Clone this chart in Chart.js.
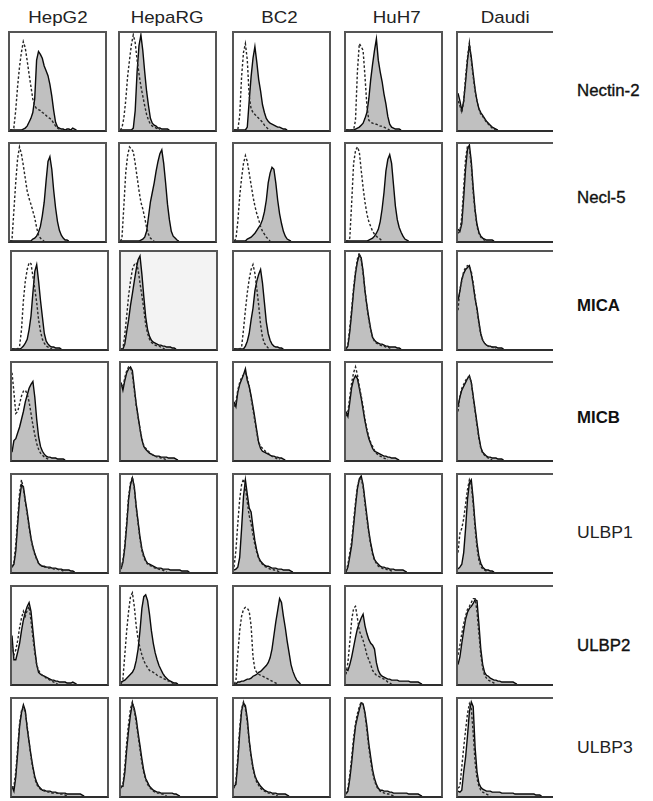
<!DOCTYPE html>
<html>
<head>
<meta charset="utf-8">
<script src="https://cdn.jsdelivr.net/npm/chart.js@4.4.0/dist/chart.umd.min.js"></script>
<style>
  html, body { margin:0; padding:0; background:#fff; }
  body { width:653px; height:801px; position:relative; overflow:hidden; font-family:"Liberation Sans", Arial, Helvetica, sans-serif; }
  #clip { position:absolute; left:0; top:0; width:553px; height:801px; overflow:hidden; }
  .panel { position:absolute; box-sizing:border-box; border:2px solid #555; border-bottom-color:#2e2e2e; background:#fff; }
  .panel canvas { display:block; }
  .hdr { position:absolute; width:200px; text-align:center; font-size:17px; line-height:17px; color:#222; white-space:nowrap; }
  .hdr span { display:inline-block; transform:scaleX(1.1); transform-origin:center; }
  .rlab { position:absolute; font-size:16px; line-height:16px; color:#111; white-space:nowrap; transform-origin:left center; }
</style>
</head>
<body>
<div id="clip"></div>
<script>
// ---------- categories ----------
const binPositions = [0,2,4,6,8,10,12,14,16,18,20,22,24,26,28,30,32,34,36,38,40,42,44,46,48,50,52,54,56,58,60,62,64,66,68,70,72,74,76,78,80,82,84,86,88,90,92,94,96,98,100];
const cellLines = ["HepG2", "HepaRG", "BC2", "HuH7", "Daudi"];
const markers = ["Nectin-2", "Necl-5", "MICA", "MICB", "ULBP1", "ULBP2", "ULBP3"];

// ---------- Nectin-2 (stained = filled, iso = dashed control) ----------
const nectin2HepG2 = [0,0,0,0,0,0,0,1,2,4,8,12,18,32,72,81,78,74,66,61,56,47,35,20,8,3,2,1,1,0,1,1,0,2,1,0];
const nectin2HepG2Iso = [0,0,2,20,45,65,80,91,85,72,58,45,32,25,22,21,20,18,17,15,13,12,10,7,4,2,1,0];
const nectin2HepaRG = [0,0,0,0,0,0,0,2,20,60,87,98,82,60,40,25,12,7,5,4,2,2,1,1,1,1,0];
const nectin2HepaRGIso = [0,2,12,30,55,72,88,98,90,72,58,45,35,25,16,10,6,4,3,2,1,0];
const nectin2BC2 = [0,0,0,0,0,0,0,3,30,55,74,86,70,52,40,26,18,12,9,7,6,5,4,3,3,2,1,1,0];
const nectin2BC2Iso = [0,0,0,15,55,80,89,72,35,22,18,16,14,12,10,8,5,3,1,0];
const nectin2HuH7 = [0,0,0,0,0,1,2,3,5,7,12,18,32,52,68,82,94,72,60,50,37,27,14,6,3,2,1,1,1,0];
const nectin2HuH7Iso = [0,0,0,0,0,10,60,89,86,82,55,25,10,8,7,6,6,5,4,4,3,2,1,0];
const nectin2Daudi = [38,30,20,30,50,72,88,75,58,42,30,22,18,15,12,9,7,5,3,2,1,0];
const nectin2DaudiIso = [30,25,18,30,55,75,90,72,55,40,30,22,16,14,11,8,6,4,2,1,0];

// ---------- Necl-5 ----------
const necl5HepG2 = [0,0,0,0,0,0,0,0,0,0,0,0,2,3,5,9,15,26,40,62,82,87,74,52,34,20,11,6,3,1,1,0];
const necl5HepG2Iso = [0,0,30,60,85,97,90,78,65,52,44,38,31,24,14,6,3,1,0];
const necl5HepaRG = [0,0,0,0,0,0,0,0,0,0,0,1,2,4,10,25,40,50,60,72,82,90,94,80,60,38,22,10,5,3,1,0];
const necl5HepaRGIso = [0,2,35,70,88,97,95,92,80,66,52,40,33,24,14,7,3,1,0];
const necl5BC2 = [0,0,0,0,0,0,0,2,3,4,6,8,11,14,17,22,30,42,60,70,76,74,60,42,28,18,10,5,2,1,0];
const necl5BC2Iso = [0,2,20,46,65,80,88,82,70,58,46,36,28,22,15,10,7,4,2,0];
const necl5HuH7 = [0,0,0,0,0,0,0,0,0,0,0,0,1,2,3,5,8,12,20,33,50,72,84,89,80,58,36,22,14,9,5,2,1,0];
const necl5HuH7Iso = [0,0,3,40,80,93,97,92,73,55,40,28,20,15,10,7,5,3,2,0];
const necl5Daudi = [12,10,18,45,75,95,99,82,55,32,17,9,5,3,2,1,1,1,1,0];
const necl5DaudiIso = [8,10,25,55,85,98,95,78,50,30,15,8,4,2,1,0];

// ---------- MICA ----------
const micaHepG2 = [0,0,0,0,0,1,3,6,10,20,34,58,80,87,70,50,33,16,8,5,3,2,2,1,1,1,0];
const micaHepG2Iso = [0,0,0,0,3,20,50,70,82,89,88,75,62,48,30,18,10,6,3,2,1,0];
const micaHepaRG = [0,0,5,18,30,45,57,70,82,92,96,77,54,33,20,13,9,7,6,5,4,4,3,3,2,2,2,1,1,0];
const micaHepaRGIso = [0,0,15,34,55,70,82,87,89,82,68,55,41,25,16,10,7,5,4,3,3,2,1,0];
const micaBC2 = [0,0,0,0,0,0,3,8,16,30,42,60,70,77,82,68,48,28,16,9,5,3,2,2,1,1,0];
const micaBC2Iso = [0,0,0,0,2,20,40,58,72,82,87,78,62,45,25,12,6,3,1,0];
const micaHuH7 = [0,3,18,38,60,78,90,97,94,80,60,45,32,21,12,9,7,6,5,5,4,3,3,2,2,2,2,1,1,0];
const micaHuH7Iso = [0,5,22,42,63,80,93,99,92,78,60,44,30,20,12,8,6,5,4,3,3,2,2,1,0];
const micaDaudi = [50,60,72,78,82,84,86,78,66,52,42,28,16,9,6,4,3,3,2,2,2,1,1,1,0];
const micaDaudiIso = [40,62,70,80,84,86,85,80,68,54,40,26,15,9,6,4,3,2,2,1,0];

// ---------- MICB ----------
const micbHepG2 = [8,20,22,28,34,42,50,60,67,74,78,81,65,42,24,14,9,6,4,3,3,2,2,2,1,1,1,1,0];
const micbHepG2Iso = [90,70,48,50,58,66,71,72,68,60,48,36,26,17,11,7,5,3,2,1,0];
const micbHepaRG = [80,72,82,90,94,96,92,75,58,45,32,21,14,11,9,7,6,5,4,4,4,3,3,3,3,2,2,2,2,1,0];
const micbHepaRGIso = [78,75,85,92,96,95,88,72,56,44,32,22,15,12,10,8,6,5,4,3,3,2,2,1,0];
const micbBC2 = [60,55,70,78,83,88,94,82,76,66,55,43,30,18,12,9,8,7,6,5,4,4,3,3,2,2,1,0];
const micbBC2Iso = [55,60,72,80,85,88,90,85,76,64,52,40,28,18,14,12,10,8,7,5,4,3,2,1,0];
const micbHuH7 = [50,45,60,75,83,87,84,74,64,52,40,30,22,17,12,9,8,7,6,5,4,4,3,3,2,2,2,1,0];
const micbHuH7Iso = [45,50,65,80,90,96,88,76,66,55,42,32,24,18,14,10,7,5,4,3,2,1,0];
const micbDaudi = [55,65,72,76,80,84,87,80,66,52,38,24,13,8,6,4,3,3,2,2,2,1,1,1,0];
const micbDaudiIso = [50,66,74,78,82,85,86,80,64,50,36,22,12,7,5,3,2,1,0];

// ---------- ULBP1 ----------
const ulbp1HepG2 = [5,8,22,50,76,90,88,74,62,48,35,26,19,14,9,7,6,6,5,5,5,4,4,4,3,3,3,2,2,2,2,1,1,0];
const ulbp1HepG2Iso = [5,10,28,55,82,95,86,72,60,46,34,25,18,13,9,7,6,5,5,4,4,4,3,3,3,2,2,1,0];
const ulbp1HepaRG = [3,10,25,48,75,90,97,88,68,52,36,24,17,12,9,8,7,6,5,4,4,4,3,3,3,3,2,2,2,2,2,2,1,1,1,1,0];
const ulbp1HepaRGIso = [3,12,28,52,78,92,98,86,66,50,34,22,15,11,8,7,6,5,4,3,3,2,2,1,0];
const ulbp1BC2 = [2,3,5,15,45,78,95,80,66,62,46,32,22,15,11,9,7,6,6,5,4,4,4,3,3,3,2,2,2,2,1,0];
const ulbp1BC2Iso = [5,22,50,75,90,96,88,72,58,50,38,28,20,14,10,8,6,5,4,3,3,2,2,1,0];
const ulbp1HuH7 = [0,5,16,28,48,68,86,96,99,90,74,58,42,30,20,13,10,8,6,5,5,4,4,3,3,3,2,2,2,2,2,1,0];
const ulbp1HuH7Iso = [0,8,20,32,52,72,88,96,96,88,70,55,40,28,18,12,9,6,5,4,3,3,2,2,1,0];
const ulbp1Daudi = [3,5,8,20,45,75,92,95,75,50,30,16,9,5,3,2,2,1,1,0];
const ulbp1DaudiIso = [20,40,45,55,70,85,95,90,70,45,25,12,6,3,2,1,0];

// ---------- ULBP2 ----------
const ulbp2HepG2 = [50,25,25,33,42,55,66,74,80,84,75,55,36,20,12,10,9,8,7,6,5,4,4,3,3,2,2,2,2,1,1,1,2,1,0];
const ulbp2HepG2Iso = [40,30,35,45,58,68,75,70,76,80,65,48,32,20,14,11,9,8,6,5,4,3,2,1,0];
const ulbp2HepaRG = [2,3,4,6,8,10,12,16,24,36,55,78,90,92,86,72,55,42,32,25,19,15,11,8,6,4,3,2,1,1,0];
const ulbp2HepaRGIso = [0,5,30,55,75,90,94,80,60,46,37,30,24,20,17,14,13,12,11,9,8,7,6,5,4,3,3,1,0];
const ulbp2BC2 = [0,0,2,2,3,3,4,5,5,6,8,9,10,12,13,15,17,19,22,27,36,50,64,76,88,84,70,58,44,32,20,13,8,4,2,0];
const ulbp2BC2Iso = [0,3,30,55,70,77,79,78,75,60,28,15,12,10,9,8,7,6,5,4,3,2,1,0];
const ulbp2HuH7 = [15,14,20,28,38,48,57,63,68,72,60,52,46,42,40,36,22,14,10,8,7,6,5,5,4,4,4,4,3,3,3,3,3,3,2,2,2,2,2,1,0];
const ulbp2HuH7Iso = [10,22,43,66,78,80,68,55,50,45,38,30,25,20,14,11,9,8,7,6,5,4,2,1,0];
const ulbp2Daudi = [20,28,42,55,67,74,78,80,83,87,86,62,36,20,12,9,8,6,5,4,4,3,3,2,2,2,2,2,2,2,1,0];
const ulbp2DaudiIso = [30,40,52,62,70,77,80,84,88,88,75,52,30,16,9,6,4,3,2,1,0];

// ---------- ULBP3 ----------
const ulbp3HepG2 = [10,5,20,45,72,86,94,88,70,56,42,30,20,14,10,8,6,6,5,5,5,4,4,4,3,3,3,3,3,2,2,2,2,2,2,2,2,1,0];
const ulbp3HepG2Iso = [8,10,25,50,75,88,92,86,72,55,40,28,18,12,9,7,6,5,5,4,4,3,3,3,3,2,2,2,1,0];
const ulbp3HepaRG = [10,10,24,48,68,84,96,90,80,65,52,38,26,18,14,10,8,6,5,4,4,3,3,3,3,3,3,3,2,2,1,0];
const ulbp3HepaRGIso = [8,12,30,55,75,90,97,88,76,62,48,34,24,17,12,9,7,5,4,3,3,2,2,1,0];
const ulbp3BC2 = [10,12,35,65,88,96,93,80,58,42,30,21,16,13,10,8,6,5,4,4,3,3,3,2,2,2,2,2,1,0];
const ulbp3BC2Iso = [8,15,40,70,90,97,90,76,56,40,28,20,14,11,8,6,5,4,3,3,2,2,1,0];
const ulbp3HuH7 = [2,5,18,35,55,72,81,89,96,95,86,72,54,40,27,18,12,8,6,6,5,5,5,4,4,3,3,3,3,3,3,3,3,2,2,2,2,2,2,1,0];
const ulbp3HuH7Iso = [2,8,22,40,60,75,85,92,97,94,84,68,50,36,24,16,10,7,5,4,3,3,2,2,1,0];
const ulbp3Daudi = [5,4,6,25,40,62,87,97,92,50,25,13,9,7,6,5,5,5,4,4,4,4,4,3,3,3,3,3,3,3,2,2,2,2,2,2,2,2,2,2,2,1,1,1,0];
const ulbp3DaudiIso = [8,10,30,50,68,85,95,90,65,35,18,10,6,4,3,2,1,0];

// ---------- tables built from the arrays above ----------
const stainedRows = [
  [nectin2HepG2, nectin2HepaRG, nectin2BC2, nectin2HuH7, nectin2Daudi],
  [necl5HepG2, necl5HepaRG, necl5BC2, necl5HuH7, necl5Daudi],
  [micaHepG2, micaHepaRG, micaBC2, micaHuH7, micaDaudi],
  [micbHepG2, micbHepaRG, micbBC2, micbHuH7, micbDaudi],
  [ulbp1HepG2, ulbp1HepaRG, ulbp1BC2, ulbp1HuH7, ulbp1Daudi],
  [ulbp2HepG2, ulbp2HepaRG, ulbp2BC2, ulbp2HuH7, ulbp2Daudi],
  [ulbp3HepG2, ulbp3HepaRG, ulbp3BC2, ulbp3HuH7, ulbp3Daudi]
];
const isotypeRows = [
  [nectin2HepG2Iso, nectin2HepaRGIso, nectin2BC2Iso, nectin2HuH7Iso, nectin2DaudiIso],
  [necl5HepG2Iso, necl5HepaRGIso, necl5BC2Iso, necl5HuH7Iso, necl5DaudiIso],
  [micaHepG2Iso, micaHepaRGIso, micaBC2Iso, micaHuH7Iso, micaDaudiIso],
  [micbHepG2Iso, micbHepaRGIso, micbBC2Iso, micbHuH7Iso, micbDaudiIso],
  [ulbp1HepG2Iso, ulbp1HepaRGIso, ulbp1BC2Iso, ulbp1HuH7Iso, ulbp1DaudiIso],
  [ulbp2HepG2Iso, ulbp2HepaRGIso, ulbp2BC2Iso, ulbp2HuH7Iso, ulbp2DaudiIso],
  [ulbp3HepG2Iso, ulbp3HepaRGIso, ulbp3BC2Iso, ulbp3HuH7Iso, ulbp3DaudiIso]
];

// ---------- layout (positions / styles only) ----------
const colLeftUpper = [8, 118, 232, 344, 456];
const colLeftLower = [10, 119, 232, 344, 456];
const rowTops = [31, 142, 250, 361, 473, 585, 697];
const panelW = 99, panelH = 101;
const headerCenters = [57.5, 167, 280, 397, 505.5];
const headerBaseline = 23.5;
const labelLeft = 577;
const labelBaselines = [96.5, 204, 311.5, 424, 539, 651.5, 754];
const labelStyles = ["medium", "medium", "bold", "bold", "regular", "medium", "regular"];

const clip = document.getElementById('clip');

cellLines.forEach((name, c) => {
  const d = document.createElement('div');
  d.className = 'hdr';
  d.style.left = (headerCenters[c] - 100) + 'px';
  d.style.top = (headerBaseline - 14.4) + 'px';
  const s = document.createElement('span');
  s.textContent = name;
  d.appendChild(s);
  document.body.appendChild(d);
});

markers.forEach((name, r) => {
  const d = document.createElement('div');
  d.className = 'rlab';
  d.textContent = name;
  d.style.left = labelLeft + 'px';
  d.style.top = (labelBaselines[r] - 13.6) + 'px';
  const st = labelStyles[r];
  if (st === 'bold') { d.style.fontWeight = 'bold'; d.style.transform = 'scaleX(1.05)'; }
  else if (st === 'medium') { d.style.webkitTextStroke = '0.35px #111'; d.style.transform = 'scaleX(1.05)'; }
  else { d.style.color = '#222'; d.style.transform = 'scaleX(1.1)'; }
  document.body.appendChild(d);
});

function drawPanel(parent, left, top, stained, isotype, bg) {
  const box = document.createElement('div');
  box.className = 'panel';
  box.style.left = left + 'px';
  box.style.top = top + 'px';
  box.style.width = panelW + 'px';
  box.style.height = panelH + 'px';
  if (bg) box.style.background = bg;
  const cv = document.createElement('canvas');
  cv.width = panelW - 4; cv.height = panelH - 4;
  cv.style.width = (panelW - 4) + 'px'; cv.style.height = (panelH - 4) + 'px';
  box.appendChild(cv);
  parent.appendChild(box);
  new Chart(cv, {
    type: 'line',
    data: {
      labels: binPositions,
      datasets: [
        { data: isotype, borderColor: '#262626', borderWidth: 1.4, borderDash: [2.5, 2],
          fill: false, pointRadius: 0, tension: 0, order: 0 },
        { data: stained, borderColor: '#0a0a0a', borderWidth: 1.4, backgroundColor: '#c0c0c0',
          fill: 'origin', pointRadius: 0, tension: 0, order: 1 }
      ]
    },
    options: {
      responsive: false, animation: false, devicePixelRatio: 1, events: [],
      layout: { padding: 0 },
      plugins: { legend: { display: false }, tooltip: { enabled: false } },
      scales: {
        x: { display: false },
        y: { display: false, min: 0, max: 100 }
      }
    }
  });
}

for (let r = 0; r < markers.length; r++) {
  for (let c = 0; c < cellLines.length; c++) {
    const left = (r < 2 ? colLeftUpper : colLeftLower)[c];
    const bg = (r === 2 && c === 1) ? '#f3f3f3' : null;
    drawPanel(clip, left, rowTops[r], stainedRows[r][c], isotypeRows[r][c], bg);
  }
}
</script>
</body>
</html>
